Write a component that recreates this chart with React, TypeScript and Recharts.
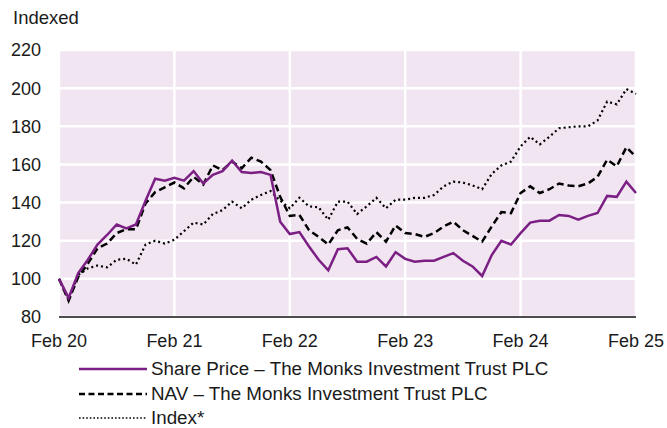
import { LineChart, Line, XAxis, YAxis, CartesianGrid } from "recharts";

const MONTH_NAMES = ["Jan", "Feb", "Mar", "Apr", "May", "Jun", "Jul", "Aug", "Sep", "Oct", "Nov", "Dec"];

// monthly points, Feb 20 .. Feb 25
const months = Array.from({ length: 61 }, (_, i) => `${MONTH_NAMES[(1 + i) % 12]} ${20 + Math.floor((1 + i) / 12)}`);

const xTicks = ["Feb 20", "Feb 21", "Feb 22", "Feb 23", "Feb 24", "Feb 25"];
const yTicks = [80, 100, 120, 140, 160, 180, 200, 220];

const sharePrice = [
  100, 90, 103, 110, 118, 123, 128.5, 126.5, 128.5, 141, 152.5, 151.5,
  153, 151.5, 156.5, 150, 154.5, 156.5, 162, 156, 155.5, 156, 154.5, 130,
  123.5, 124.5, 117, 110, 104.5, 115.5, 116, 109, 109, 111.5, 106.5, 114,
  110.5, 109, 109.5, 109.5, 111.5, 113.5, 109.5, 106.5, 101.5, 112.5, 120, 118,
  124, 129.5, 130.5, 130.5, 133.5, 133, 131, 133, 134.5, 143.5, 143, 151,
  145,
];

const nav = [
  100, 88.5, 101, 108, 116, 118.5, 124, 126, 126, 139.5, 145.5, 148,
  150.5, 147.5, 153.5, 149.5, 159.5, 157, 161.5, 158, 163.5, 161.5, 157, 143,
  133, 133.5, 125.5, 122, 118, 125.5, 127, 121, 118.5, 124.5, 119.5, 128,
  124, 123.5, 122, 124, 127.5, 130, 125.5, 122.5, 119.5, 127.5, 135, 134.5,
  145, 148.5, 145, 147, 150, 149, 148.5, 150, 153.5, 162.5, 159, 169,
  164,
];

const index = [
  100, 89, 102, 105.5, 107, 106, 110, 110.5, 107.5, 118, 120, 118.5,
  120.5, 125, 129.5, 128.5, 134, 136, 140.5, 137, 141.5, 144, 146, 141,
  137, 142.5, 138, 137.5, 131, 140.5, 140.5, 134, 138, 142.5, 137, 141.5,
  141.5, 142.5, 142.5, 144, 148.5, 151, 150.5, 149, 147, 155, 159.5, 161.5,
  169.5, 174.5, 170.5, 174.5, 179, 179.5, 180, 180, 183, 193, 191.5, 199.5,
  197,
];

const data = months.map((month, i) => ({
  month,
  sharePrice: sharePrice[i],
  nav: nav[i],
  index: index[i],
}));

const FONT = "'Liberation Sans', Arial, sans-serif";
const PURPLE = "#7b1f84";
const TEXT = "#1a1a1a";

const legendItems = [
  { label: "Share Price – The Monks Investment Trust PLC", color: PURPLE, width: 2.5, dash: undefined },
  { label: "NAV – The Monks Investment Trust PLC", color: "#000", width: 2.5, dash: "6 3.5" },
  { label: "Index*", color: "#000", width: 1.6, dash: "1.6 2" },
];

export default function App() {
  return (
    <div style={{ position: "absolute", left: 0, top: 0, width: 667, height: 428, overflow: "hidden", fontFamily: FONT, color: TEXT }}>
      <div style={{ position: "absolute", left: 13, top: 7, fontSize: 18.5, lineHeight: "22px" }}>Indexed</div>
      <LineChart width={667} height={428} data={data} margin={{ top: 50, right: 31, left: 0, bottom: 0 }}>
        <CartesianGrid fill="#f0e5f0" fillOpacity={1} stroke="#ffffff" strokeWidth={2.5} />
        <XAxis
          dataKey="month"
          ticks={xTicks}
          interval={0}
          height={111}
          tickSize={0}
          tickMargin={17}
          axisLine={{ stroke: "#4d4d4d", strokeWidth: 2 }}
          tickLine={false}
          tick={{ fontSize: 18, fill: TEXT, fontFamily: FONT }}
        />
        <YAxis
          domain={[80, 220]}
          ticks={yTicks}
          width={59}
          tickSize={0}
          tickMargin={18}
          axisLine={false}
          tickLine={false}
          tick={{ fontSize: 18, fill: TEXT, fontFamily: FONT }}
        />
        <Line dataKey="index" stroke="#000" strokeWidth={2.2} strokeDasharray="2 3" dot={false} isAnimationActive={false} />
        <Line dataKey="nav" stroke="#000" strokeWidth={2.5} strokeDasharray="7 4" dot={false} isAnimationActive={false} />
        <Line dataKey="sharePrice" stroke={PURPLE} strokeWidth={2.5} dot={false} isAnimationActive={false} />
      </LineChart>
      <div style={{ position: "absolute", left: 79, top: 357 }}>
        {legendItems.map((item) => (
          <div key={item.label} style={{ display: "flex", alignItems: "center", height: 24.5, fontSize: 18.8 }}>
            <svg width={68} height={6} style={{ marginRight: 4 }}>
              <line x1={0} y1={3} x2={68} y2={3} stroke={item.color} strokeWidth={item.width} strokeDasharray={item.dash} />
            </svg>
            <span style={{ lineHeight: "14px" }}>{item.label}</span>
          </div>
        ))}
      </div>
    </div>
  );
}
